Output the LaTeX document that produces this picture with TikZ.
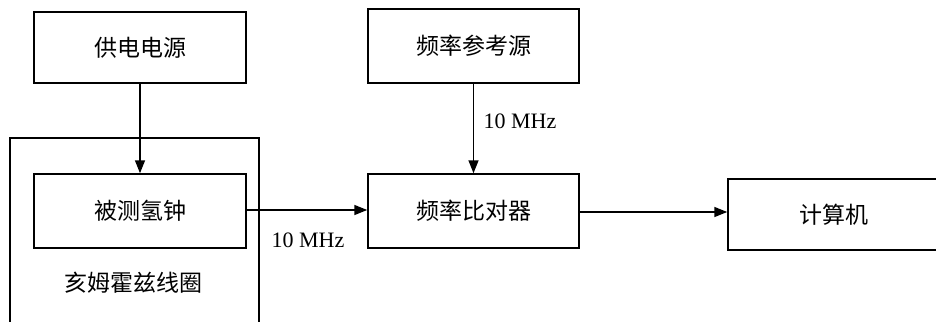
\documentclass[tikz,border=0pt]{standalone}
\usepackage{fontspec}
\setmainfont{Liberation Serif}
\newfontfamily\cjk{Noto Sans CJK SC}
\usetikzlibrary{arrows.meta}
\begin{document}
\begin{tikzpicture}[x=1pt,y=-1pt,
  box/.style={draw, line width=1.5pt, inner sep=0pt, font=\cjk\fontsize{23}{26}\selectfont},
  conn/.style={line width=1.5pt, -{Triangle[length=13pt,width=10pt]}},
  lbl/.style={inner sep=0pt, font=\fontsize{22}{25}\selectfont}]
\useasboundingbox (0,0) rectangle (936,321);
\draw[line width=1.5pt] (10,340) -- (10,138) -- (259,138) -- (259,340);
\node[box, minimum width=212pt, minimum height=71pt] (psu) at (140,47.5) {供电电源};
\node[box, minimum width=212pt, minimum height=74pt] (clk) at (140,211) {被测氢钟};
\node[box, minimum width=211pt, minimum height=74pt] (ref) at (473.5,46) {频率参考源};
\node[box, minimum width=211pt, minimum height=74pt] (cmp) at (473.5,211) {频率比对器};
\node[box, minimum width=212pt, minimum height=71pt] (pc) at (834,214.5) {计算机};
\node[inner sep=0pt, font=\cjk\fontsize{23}{26}\selectfont] (coil) at (133,283) {亥姆霍兹线圈};
\draw[conn] (psu) -- (clk);
\draw[conn] (ref) -- (cmp);
\draw[conn] (clk.east |- 0,210) -- (cmp.west |- 0,210);
\draw[conn] (cmp.east |- 0,212) -- (pc.west |- 0,212);
\node[lbl] (l1) at (520,121) {10 MHz};
\node[lbl] (l2) at (308,240) {10 MHz};
\end{tikzpicture}
\end{document}
